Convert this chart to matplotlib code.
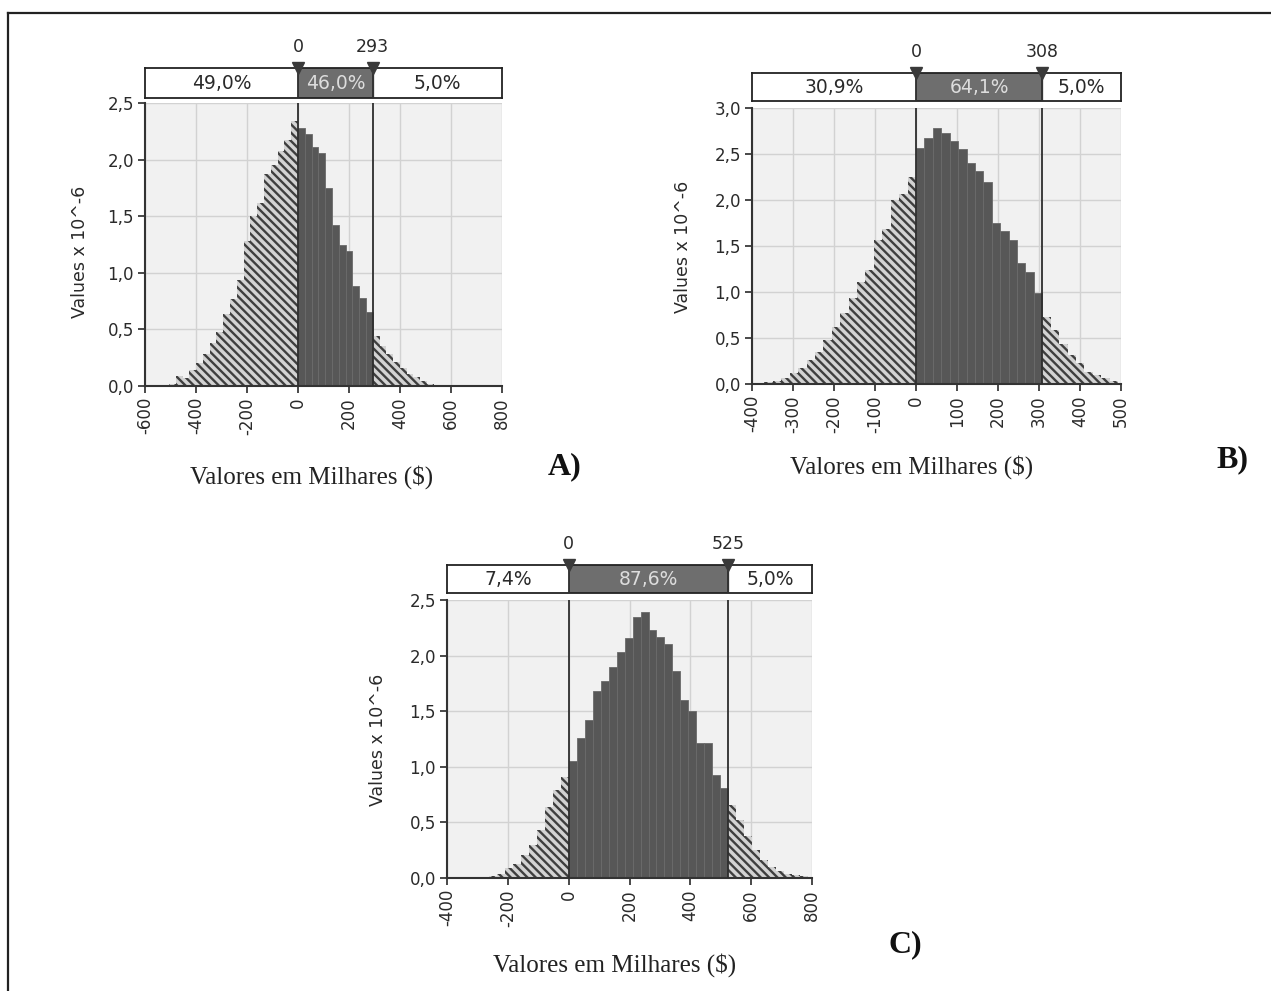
import matplotlib
matplotlib.use('Agg')
import matplotlib.pyplot as plt
import numpy as np

W, H = 1271, 991

# histogram heights (x 10^-6), split by region
a_left = [0.02, 0.09, 0.07, 0.14, 0.20, 0.28, 0.38, 0.48, 0.64, 0.77, 0.94,
          1.28, 1.50, 1.62, 1.87, 1.95, 2.08, 2.17, 2.34]
a_mid = [2.28, 2.23, 2.11, 2.06, 1.75, 1.42, 1.25, 1.19, 0.88, 0.78, 0.65]
a_right = [0.44, 0.35, 0.28, 0.21, 0.16, 0.11, 0.08, 0.04, 0.02, 0.01, 0.01]
a_cut = 293
a_pcts = ['49,0%', '46,0%', '5,0%']

b_left = [0.02, 0.03, 0.06, 0.12, 0.17, 0.26, 0.35, 0.48, 0.62, 0.77, 0.93,
          1.11, 1.24, 1.57, 1.69, 2.00, 2.06, 2.25]
b_mid = [2.57, 2.67, 2.78, 2.73, 2.64, 2.55, 2.40, 2.31, 2.20, 1.75, 1.66,
         1.57, 1.31, 1.22, 0.99]
b_right = [0.73, 0.59, 0.44, 0.32, 0.23, 0.13, 0.10, 0.06, 0.03]
b_cut = 308
b_pcts = ['30,9%', '64,1%', '5,0%']

c_left = [0.01, 0.02, 0.04, 0.09, 0.13, 0.21, 0.30, 0.43, 0.64, 0.79, 0.91]
c_mid = [1.05, 1.26, 1.42, 1.68, 1.77, 1.90, 2.03, 2.16, 2.35, 2.39, 2.23,
         2.17, 2.10, 1.86, 1.60, 1.50, 1.21, 1.21, 0.93, 0.81]
c_right = [0.66, 0.52, 0.38, 0.25, 0.16, 0.10, 0.06, 0.04, 0.03, 0.02]
c_cut = 525
c_pcts = ['7,4%', '87,6%', '5,0%']

plt.rcParams['hatch.linewidth'] = 1.7
plt.rcParams['font.family'] = ['DejaVu Sans']

fig = plt.figure(figsize=(W / 100, H / 100), dpi=100)


def px_rect(l, t, r, b):
    return [l / W, 1 - b / H, (r - l) / W, (b - t) / H]


def panel(box, sbox, xlim, xstep, ymax, left, mid, right, cut, pcts):
    ax = fig.add_axes(px_rect(*box))
    w = cut / len(mid)
    n_l, n_m = len(left), len(mid)
    heights = np.array(left + mid + right)
    idx = np.arange(len(heights))
    edges = (idx - n_l) * w
    inside = (idx >= n_l) & (idx < n_l + n_m)
    ax.bar(edges[inside], heights[inside], width=w, align='edge', color='#575757',
           edgecolor='#6a6a6a', linewidth=0.6, zorder=2)
    ax.bar(edges[~inside], heights[~inside], width=w, align='edge',
           facecolor='#d2d2d2', edgecolor='#3e3e3e', linewidth=0,
           hatch='\\\\\\\\', zorder=2)
    ax.set_xlim(*xlim)
    ax.set_ylim(0, ymax)
    ax.set_facecolor('#f1f1f1')
    xt = np.arange(xlim[0], xlim[1] + 1, xstep)
    ax.set_xticks(xt)
    ax.set_xticklabels([str(int(v)) for v in xt], rotation=90)
    yt = np.arange(0, ymax + 0.01, 0.5)
    ax.set_yticks(yt)
    ax.set_yticklabels([f'{v:.1f}'.replace('.', ',') for v in yt])
    ax.grid(True, color='#d2d2d2', linewidth=1.0, zorder=0)
    ax.set_axisbelow(True)
    for s in ['top', 'right']:
        ax.spines[s].set_visible(False)
    for s in ['left', 'bottom']:
        ax.spines[s].set_color('#333333')
        ax.spines[s].set_linewidth(1.5)
    ax.tick_params(direction='out', length=5, width=1.2, colors='#2a2a2a',
                   labelsize=12, pad=3)
    for x in (0, cut):
        ax.axvline(x, color='#2e2e2e', linewidth=1.3, zorder=4)

    # percentage strip above the plot
    sax = fig.add_axes(px_rect(*sbox))
    sax.set_xlim(*xlim)
    sax.set_ylim(0, 1)
    sax.set_xticks([])
    sax.set_yticks([])
    sax.axvspan(0, cut, color='#6e6e6e', zorder=1)
    for s in sax.spines.values():
        s.set_color('#222222')
        s.set_linewidth(1.3)
    centers = [(xlim[0] + 0) / 2, cut / 2, (cut + xlim[1]) / 2]
    colors = ['#2a2a2a', '#dddddd', '#2a2a2a']
    for cx, t, c in zip(centers, pcts, colors):
        sax.text(cx, 0.47, t, ha='center', va='center', fontsize=13.5, color=c)
    for x in (0, cut):
        sax.axvline(x, color='#2e2e2e', linewidth=1.3, zorder=3)
        sax.plot([x], [1.0], marker='v', markersize=9, color='#3a3a3a',
                 clip_on=False, zorder=5)
        sax.annotate(str(x), xy=(x, 1.0), xycoords=('data', 'axes fraction'),
                     xytext=(0, 15), textcoords='offset points', ha='center',
                     va='center', fontsize=12.5, color='#2a2a2a')
    return ax


panel((145, 103, 502, 386), (145, 68, 502, 98), (-600, 800), 200, 2.5,
      a_left, a_mid, a_right, a_cut, a_pcts)
panel((752, 108, 1121, 384), (752, 73, 1121, 101), (-400, 500), 100, 3.0,
      b_left, b_mid, b_right, b_cut, b_pcts)
panel((447, 600, 812, 878), (447, 565, 812, 593), (-400, 800), 200, 2.5,
      c_left, c_mid, c_right, c_cut, c_pcts)

xlab = 'Valores em Milhares ($)'
for (x, y) in [(312, 477), (912, 467), (615, 965)]:
    fig.text(x / W, 1 - y / H, xlab, ha='center', va='center', fontsize=18,
             family='Liberation Serif', color='#222222')
for (x, y) in [(80, 252), (683, 247), (378, 740)]:
    fig.text(x / W, 1 - y / H, 'Values x 10^-6', ha='center', va='center',
             rotation=90, fontsize=12.5, color='#2a2a2a')
for (x, y, t) in [(565, 467, 'A)'), (1232, 460, 'B)'), (905, 945, 'C)')]:
    fig.text(x / W, 1 - y / H, t, ha='center', va='center', fontsize=23,
             family='Liberation Serif', weight='bold', color='#111111')

# outer frame (top and left edges)
fig.add_artist(plt.Line2D([7.5 / W, 1], [1 - 12.5 / H, 1 - 12.5 / H],
                          transform=fig.transFigure, color='#222222', lw=1.6))
fig.add_artist(plt.Line2D([7.5 / W, 7.5 / W], [0, 1 - 12.5 / H],
                          transform=fig.transFigure, color='#222222', lw=1.6))

fig.savefig('out.png', dpi=100)
